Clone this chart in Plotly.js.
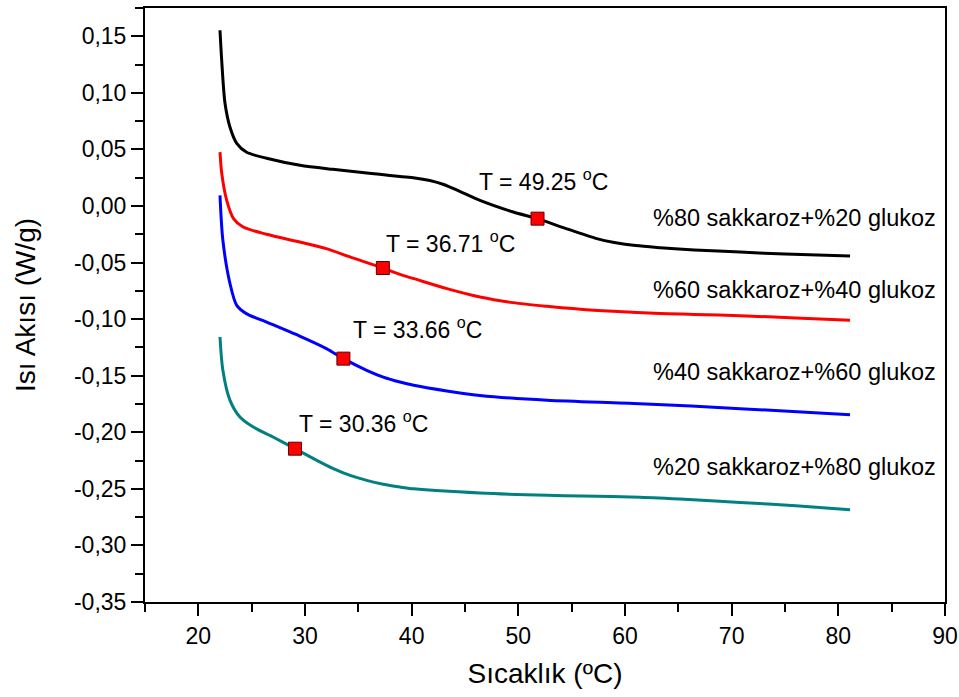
<!DOCTYPE html>
<html>
<head>
<meta charset="utf-8">
<script src="https://cdn.plot.ly/plotly-3.0.1.min.js"></script>
<style>html,body{margin:0;padding:0;background:#fff;}#chart{width:959px;height:697px;}</style>
</head>
<body>
<div id="chart"></div>
<script>
// Series: heat flow (W/g) vs temperature (°C)
const x80 = [22.03, 22.19, 22.5, 22.97, 23.6, 24.53, 26.4, 29.53, 32.6, 35.8, 37.0, 38.9, 40.3, 41.7, 43.0, 44.5, 46.4, 49.53, 51.78, 54.22, 57.35, 59.0, 61.0, 63.3, 66.5, 70.8, 75.0, 81.1];
const y80 = [0.1553, 0.1288, 0.0908, 0.0696, 0.0554, 0.0475, 0.0422, 0.036, 0.0324, 0.0292, 0.0280, 0.0260, 0.0248, 0.0225, 0.0190, 0.0130, 0.0050, -0.0053, -0.0112, -0.0191, -0.0288, -0.0322, -0.0350, -0.0368, -0.0388, -0.0407, -0.0425, -0.0442];

const x60 = [22.03, 22.2, 22.66, 23.3, 24.2, 26.4, 29.5, 32.0, 34.2, 37.3, 38.9, 40.2, 43.3, 46.4, 49.5, 52.7, 55.8, 58.9, 63.3, 66.5, 70.8, 76.0, 81.1];
const y60 = [0.0477, 0.0286, 0.005, -0.0111, -0.0186, -0.025, -0.0318, -0.0377, -0.045, -0.0548, -0.0605, -0.0642, -0.073, -0.0804, -0.0854, -0.0887, -0.0913, -0.0931, -0.0951, -0.0958, -0.0970, -0.0990, -0.1010];

const x40 = [22.03, 22.3, 22.97, 23.6, 24.5, 26.4, 29.5, 32.0, 33.6, 35.78, 37.34, 38.9, 40.2, 43.3, 46.4, 52.7, 61.4, 70.8, 81.1];
const y40 = [0.0094, -0.0303, -0.0686, -0.0878, -0.0951, -0.1026, -0.1150, -0.126, -0.1349, -0.1452, -0.1512, -0.1556, -0.1585, -0.1635, -0.1674, -0.1717, -0.1747, -0.1791, -0.1844];

const x20 = [22.03, 22.3, 22.97, 23.9, 25.15, 27.0, 29.06, 31.1, 32.66, 34.22, 35.78, 37.34, 38.9, 40.2, 46.4, 52.7, 56.0, 61.4, 66.0, 70.8, 76.0, 81.1];
const y20 = [-0.1158, -0.1452, -0.1718, -0.1865, -0.1954, -0.2042, -0.2145, -0.2248, -0.2321, -0.2381, -0.2425, -0.2460, -0.2484, -0.2500, -0.2537, -0.2557, -0.2563, -0.2575, -0.2595, -0.2620, -0.2650, -0.2684];

// Marked transition points
const markX = [51.8, 37.3, 33.6, 29.06];
const markY = [-0.0112, -0.0548, -0.1349, -0.2145];
const markLabels = ["T = 49.25 <sup>o</sup>C", "T = 36.71 <sup>o</sup>C", "T = 33.66 <sup>o</sup>C", "T = 30.36 <sup>o</sup>C"];

const seriesNames = ["%80 sakkaroz+%20 glukoz", "%60 sakkaroz+%40 glukoz", "%40 sakkaroz+%60 glukoz", "%20 sakkaroz+%80 glukoz"];

const xTicks = [20, 30, 40, 50, 60, 70, 80, 90];
const yTicks = [0.15, 0.10, 0.05, 0.00, -0.05, -0.10, -0.15, -0.20, -0.25, -0.30, -0.35];
const yTickText = ["0,15", "0,10", "0,05", "0,00", "-0,05", "-0,10", "-0,15", "-0,20", "-0,25", "-0,30", "-0,35"];

const FONT = "Liberation Sans, Arial, sans-serif";
const colors = ["#000000", "#ff0000", "#0000ff", "#008080"];
const xs = [x80, x60, x40, x20];
const ys = [y80, y60, y40, y20];

const traces = xs.map((xv, i) => ({
  x: xv, y: ys[i], type: "scatter", mode: "lines", name: seriesNames[i],
  line: {color: colors[i], width: 3, shape: "spline", smoothing: 0.8},
  hoverinfo: "skip"
}));
traces.push({
  x: markX, y: markY, type: "scatter", mode: "markers",
  marker: {symbol: "square", size: 13, color: "#ff0000", line: {color: "#600000", width: 1}},
  hoverinfo: "skip"
});

// annotation placement (label positions in data space)
const labPos = [[52.4, 0.0227], [43.6, -0.032], [40.5, -0.108], [35.45, -0.191]];
const annotations = markLabels.map((t, i) => ({
  x: labPos[i][0], y: labPos[i][1], xref: "x", yref: "y", text: t, showarrow: false,
  font: {family: FONT, size: 23, color: "#000"}, xanchor: "center", yanchor: "middle"
}));
const namePosY = [-0.0109, -0.0745, -0.1467, -0.2307];
seriesNames.forEach((n, i) => annotations.push({
  x: 89.3, y: namePosY[i], xref: "x", yref: "y", text: n, showarrow: false,
  font: {family: FONT, size: 23.5, color: "#000"}, xanchor: "right", yanchor: "middle"
}));

const layout = {
  width: 959, height: 697,
  margin: {l: 145, r: 14, t: 8, b: 95},
  paper_bgcolor: "#fff", plot_bgcolor: "#fff",
  showlegend: false,
  font: {family: FONT, color: "#000"},
  xaxis: {
    range: [15, 90], tickvals: xTicks, ticktext: xTicks.map(String),
    ticks: "outside", ticklen: 12, tickwidth: 2, tickcolor: "#000",
    minor: {tick0: 15, dtick: 5, ticks: "outside", ticklen: 8, tickwidth: 2, tickcolor: "#000"},
    showline: true, linewidth: 2, linecolor: "#000", mirror: true,
    showgrid: false, zeroline: false,
    tickfont: {family: FONT, size: 23, color: "#000"},
    title: {text: "Sıcaklık (ºC)", font: {family: FONT, size: 28, color: "#000"}, standoff: 16}
  },
  yaxis: {
    range: [-0.35, 0.175], tickvals: yTicks, ticktext: yTickText,
    ticks: "outside", ticklen: 12, tickwidth: 2, tickcolor: "#000",
    minor: {tick0: 0, dtick: 0.025, ticks: "outside", ticklen: 8, tickwidth: 2, tickcolor: "#000"},
    showline: true, linewidth: 2, linecolor: "#000", mirror: true,
    showgrid: false, zeroline: false,
    tickfont: {family: FONT, size: 23, color: "#000"},
    title: {text: "Isı Akısı (W/g)", font: {family: FONT, size: 28, color: "#000"}, standoff: 30}
  },
  annotations: annotations
};

Plotly.newPlot("chart", traces, layout, {staticPlot: true, displayModeBar: false});
</script>
</body>
</html>
